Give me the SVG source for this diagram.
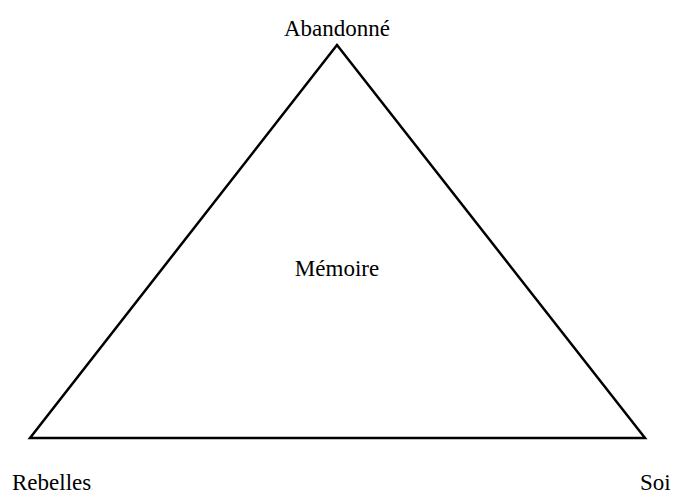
<svg xmlns="http://www.w3.org/2000/svg" width="687" height="497" viewBox="0 0 687 497">
<style>
text{font-family:"Liberation Serif","Times New Roman",serif;font-size:23px;fill:#000}
.edge{fill:none;stroke:#000;stroke-width:2.5;stroke-linejoin:miter}
</style>
<rect width="687" height="497" fill="#fff"/>
<g id="connectors">
<polygon class="edge" points="337,45 30,438 645,438"/>
</g>
<g id="abandonne"><text x="337" y="36" text-anchor="middle">Abandonné</text></g>
<g id="memoire"><text x="337" y="276" text-anchor="middle">Mémoire</text></g>
<g id="rebelles"><text x="12" y="490">Rebelles</text></g>
<g id="soi"><text x="640" y="490">Soi</text></g>
</svg>
